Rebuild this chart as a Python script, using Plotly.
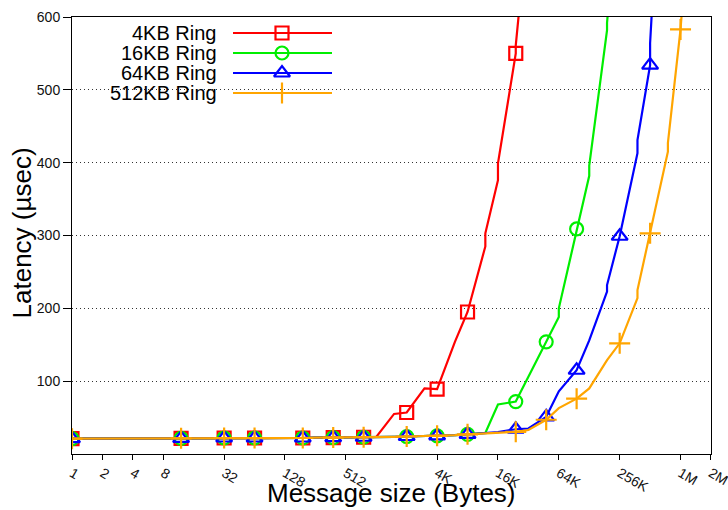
import plotly.graph_objects as go

# ---------------- data ----------------
series_names = ["4KB Ring", "16KB Ring", "64KB Ring", "512KB Ring"]
series_colors = ["#ff0000", "#00ee00", "#0000ff", "#ffa500"]
series_symbols = ["square-open", "circle-open", "triangle-up-open", "cross-thin-open"]
series_msizes = [13, 13, 14, 15]

flat_x = [1, 2, 4, 8, 12, 16, 24, 32, 48, 64, 96, 128, 192, 256, 384, 512, 768, 1024,
          1536, 2048, 3072, 4096, 6144, 8192]
flat_y = [21, 21, 21, 21.5, 21.5, 21.5, 22, 22, 22, 22, 22, 22, 22, 22.5, 22.5, 23, 23, 23.5,
          23.5, 24, 24.5, 25, 26, 27]

x_4kb = flat_x[:18] + [1536, 2048, 3072, 4096, 6144, 8192, 12288, 12288, 16384, 16384,
                       24576, 24576, 32768]
y_4kb = flat_y[:18] + [55, 57, 90, 89, 154, 195, 285, 303, 376, 399, 550, 561, 740]

x_16kb = flat_x + [12288, 16384, 24576, 32768, 49152, 65536, 65536, 98304, 131072, 131072,
                   196608, 196608, 262144]
y_16kb = flat_y + [29, 68, 72, 106, 154, 188, 200, 309, 382, 396, 582, 592, 800]

x_64kb = flat_x + [12288, 16384, 24576, 32768, 49152, 65536, 98304, 131072, 196608, 196608,
                   262144, 393216, 393216, 524288, 524288, 786432]
y_64kb = flat_y + [28.5, 30, 34, 35, 51, 86, 115, 156, 223, 232, 299, 413, 431, 534, 564, 1000]

x_512kb = flat_x + [12288, 16384, 24576, 32768, 49152, 65536, 98304, 131072, 196608, 262144,
                    393216, 393216, 524288, 786432, 786432, 1048576, 1572864]
y_512kb = flat_y + [28.5, 29.5, 30.5, 33, 47, 63, 76, 90, 129, 152, 214, 225, 303, 415, 427,
                    583, 900]

series_x = [x_4kb, x_16kb, x_64kb, x_512kb]
series_y = [y_4kb, y_16kb, y_64kb, y_512kb]

# message sizes at which a point symbol is drawn
marker_sizes_at = [1, 12, 32, 64, 192, 384, 768, 2048, 4096, 8192, 24576, 49152, 98304,
                   262144, 524288, 1048576]

x_tickvals = [1, 2, 4, 8, 32, 128, 512, 4096, 16384, 65536, 262144, 1048576, 2097152]
x_ticktext = ["1", "2", "4", "8", "32", "128", "512", "4K", "16K", "64K", "256K", "1M", "2M"]
y_tickvals = [100, 200, 300, 400, 500, 600]

FONT = "Liberation Sans, Arial, Helvetica, sans-serif"

fig = go.Figure()

for name, col, sym, ms, xs, ys in zip(series_names, series_colors, series_symbols,
                                      series_msizes, series_x, series_y):
    fig.add_trace(go.Scatter(x=xs, y=ys, mode="lines", line=dict(color=col, width=2.2),
                             showlegend=False, hoverinfo="skip"))
    mx, my = [], []
    for m in marker_sizes_at:
        if m in xs:
            i = xs.index(m)
            mx.append(xs[i]); my.append(ys[i])
    fig.add_trace(go.Scatter(x=mx, y=my, mode="markers",
                             marker=dict(symbol=sym, size=ms, color=col,
                                         line=dict(color=col, width=2.2)),
                             showlegend=False, cliponaxis=True, hoverinfo="skip"))

# ---- gnuplot-style key (text left, sample right) on a pixel-scaled overlay axis ----
key_rows = [33, 53, 73, 93]
key_text_right = 218
key_line = [233, 332]
key_mark = 282
for name, col, sym, ms, ry in zip(series_names, series_colors, series_symbols,
                                  series_msizes, key_rows):
    fig.add_trace(go.Scatter(x=key_line, y=[ry, ry], xaxis="x2", yaxis="y2", mode="lines",
                             line=dict(color=col, width=2.2), showlegend=False,
                             hoverinfo="skip"))
    fig.add_trace(go.Scatter(x=[key_mark], y=[ry], xaxis="x2", yaxis="y2", mode="markers",
                             marker=dict(symbol=sym, size=ms, color=col,
                                         line=dict(color=col, width=2.2)),
                             showlegend=False, hoverinfo="skip"))
    fig.add_annotation(x=key_text_right, y=ry, xref="x2", yref="y2", text=name,
                       showarrow=False, xanchor="right", yanchor="middle", borderpad=0,
                       font=dict(family=FONT, size=20, color="#000"))

fig.add_annotation(x=0.5, y=-0.128, xref="paper", yref="paper", text="Message size (Bytes)",
                   showarrow=False, xanchor="center", yanchor="bottom",
                   font=dict(family=FONT, size=26, color="#000"))
fig.add_annotation(x=-0.078, y=0.505, xref="paper", yref="paper", text="Latency (µsec)",
                   textangle=-90, showarrow=False, xanchor="center", yanchor="middle",
                   font=dict(family=FONT, size=26, color="#000"))

fig.update_layout(
    width=728, height=510,
    margin=dict(l=72, r=17, t=17, b=56, autoexpand=False),
    paper_bgcolor="white", plot_bgcolor="white",
    showlegend=False,
    font=dict(family=FONT, size=14, color="#000"),
    xaxis=dict(type="log", range=[0, 21 * 0.30103 + 0.0005], tickvals=x_tickvals,
               ticktext=x_ticktext, automargin=False, ticklabeloverflow="allow",
               tickangle=30, ticks="outside", ticklen=5, tickcolor="#000",
               showline=True, linecolor="#000", linewidth=1, mirror=True,
               showgrid=False, zeroline=False, tickfont=dict(family=FONT, size=14, color="#111")),
    yaxis=dict(range=[0, 600], tickvals=y_tickvals, ticks="outside", ticklen=8,
               tickcolor="#000", showline=True, linecolor="#000", linewidth=1, mirror=True,
               automargin=False, ticklabeloverflow="allow",
               showgrid=True, gridcolor="#333", griddash="1px,3px", gridwidth=1,
               zeroline=False, tickfont=dict(family=FONT, size=14, color="#111")),
    xaxis2=dict(overlaying="x", range=[72, 711], visible=False, fixedrange=True),
    yaxis2=dict(overlaying="y", range=[454, 17], visible=False, fixedrange=True),
)

fig.write_html("out.html", config={"displayModeBar": False},
               post_script="document.body.style.margin='0';document.body.style.overflow='hidden';")
